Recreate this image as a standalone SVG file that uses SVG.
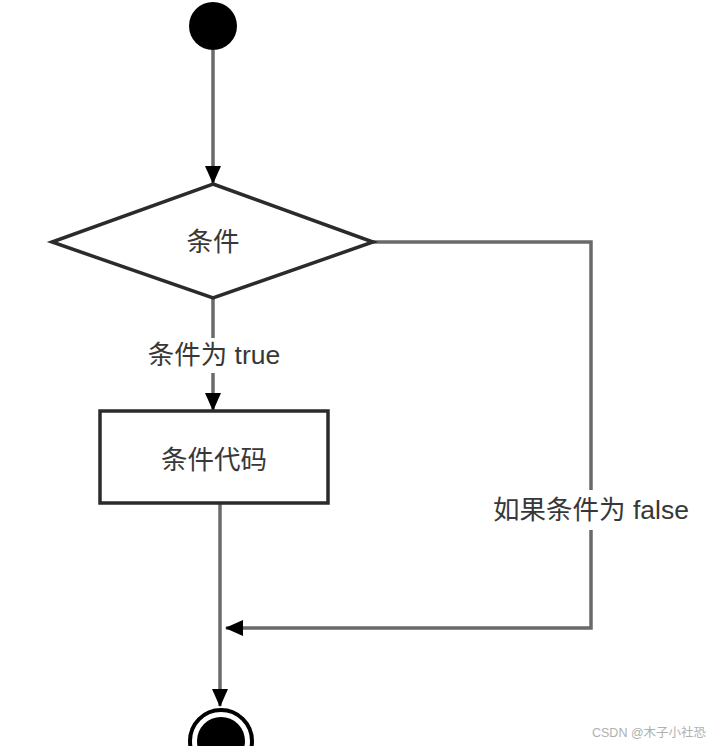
<svg xmlns="http://www.w3.org/2000/svg" width="717" height="746" viewBox="0 0 717 746">
<style>
.edge{fill:none;stroke:#6a6a6a;stroke-width:3.5}
.shape{fill:#fff;stroke:#2b2b2b;stroke-width:3.5}
.lbl{font-family:"Liberation Sans","Noto Sans CJK SC",sans-serif;font-size:26.5px;fill:#383838;text-anchor:middle}
.wm{font-family:"Liberation Sans","Noto Sans CJK SC",sans-serif;font-size:12.5px;fill:#b0b0b0}
</style>
<defs>
<marker id="arr" markerWidth="18" markerHeight="16" refX="17" refY="8" orient="auto" markerUnits="userSpaceOnUse">
<path d="M0,0 L18,8 L0,16 Z" fill="#000"/>
</marker>
</defs>
<rect width="717" height="746" fill="#fff"/>
<g id="connectors">
<path class="edge" d="M213,50 V183" marker-end="url(#arr)"/>
<path class="edge" d="M213,298 V338"/>
<path class="edge" d="M213,373 V410" marker-end="url(#arr)"/>
<path class="edge" d="M220,504 V706" marker-end="url(#arr)"/>
<path class="edge" d="M373,242 H591 V490"/>
<path class="edge" d="M591,530 V628 H226" marker-end="url(#arr)"/>
<text class="lbl" x="214" y="364">条件为 true</text>
<text class="lbl" x="591" y="519">如果条件为 false</text>
</g>
<g id="start">
<circle cx="213" cy="26" r="24" fill="#000"/>
</g>
<g id="cond">
<polygon class="shape" points="213,184 373,242 213,298 52,242"/>
<text class="lbl" x="213" y="251">条件</text>
</g>
<g id="code">
<rect class="shape" x="100" y="411" width="228" height="92"/>
<text class="lbl" x="214" y="469">条件代码</text>
</g>
<g id="end">
<circle cx="221" cy="741" r="31" fill="#fff" stroke="#000" stroke-width="4"/>
<circle cx="221" cy="741" r="24" fill="#000"/>
</g>
<text class="wm" x="592" y="737">CSDN @木子小社恐</text>
</svg>
